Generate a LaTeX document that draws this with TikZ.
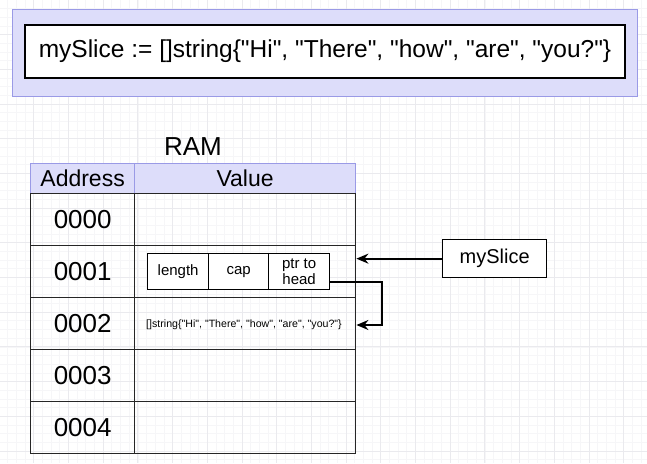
\documentclass[tikz,border=0pt]{standalone}
\usepackage{fontspec}
\setmainfont{Liberation Sans}[Ligatures=TeXOff]
\usetikzlibrary{arrows.meta}
\definecolor{lav}{HTML}{DDDDFA}
\definecolor{lavborder}{HTML}{9A9AE6}
\definecolor{gridmaj}{HTML}{EAEAEE}
\definecolor{gridmin}{HTML}{F6F6F8}
\tikzset{
  cellline/.style={draw=black!85, line width=1.4pt},
  plainbox/.style={draw=black, line width=1.3pt, fill=white},
  conn/.style={draw=black, line width=1.8pt, -{Stealth[length=12pt,width=10pt]}},
  addr/.style={font=\fontsize{26}{27}\selectfont},
}
\begin{document}
\begin{tikzpicture}[x=1pt,y=-1pt]
\useasboundingbox (0,0) rectangle (647,463);
\fill[white] (0,0) rectangle (647,463);
% grid
\foreach \i in {0,...,75} {
  \draw[gridmin, line width=0.4pt] ({-1.1+\i*8.675},0) -- ({-1.1+\i*8.675},463);
}
\foreach \i in {0,...,54} {
  \draw[gridmin, line width=0.4pt] (0,{-0.3+\i*8.675}) -- (647,{-0.3+\i*8.675});
}
\foreach \i in {0,...,19} {
  \draw[gridmaj, line width=0.6pt] ({-1.1+\i*34.7},0) -- ({-1.1+\i*34.7},463);
}
\foreach \i in {0,...,14} {
  \draw[gridmaj, line width=0.6pt] (0,{-0.3+\i*34.7}) -- (647,{-0.3+\i*34.7});
}
% top banner
\node[draw=lavborder, fill=lav, line width=1.3pt, minimum width=625pt, minimum height=87pt, inner sep=0pt, anchor=north west] (banner) at (12,8.5) {};
\node[plainbox, minimum width=600pt, minimum height=53pt, inner sep=0pt] (code) at (325,51.5)
  {\fontsize{24.5}{26}\selectfont mySlice := []string\{"Hi", "There", "how", "are", "you?"\}};
% RAM title
\node[font=\fontsize{26}{28}\selectfont] (ram) at (193,147) {RAM};
% header row
\node[draw=lavborder, fill=lav, line width=1.2pt, minimum width=104pt, minimum height=30pt, inner sep=0pt, anchor=north west,
  font=\fontsize{23}{24}\selectfont] (haddr) at (30,163) {Address};
\node[draw=lavborder, fill=lav, line width=1.2pt, minimum width=221pt, minimum height=30pt, inner sep=0pt, anchor=north west,
  font=\fontsize{23}{24}\selectfont] (hval) at (134,163) {Value};
% rows
\foreach \k/\a in {0/0000,1/0001,2/0002,3/0003,4/0004} {
  \node[cellline, minimum width=104pt, minimum height=52pt, inner sep=0pt, anchor=north west, addr]
    (a\k) at (30,{193+\k*52}) {\a};
  \node[cellline, minimum width=221pt, minimum height=52pt, inner sep=0pt, anchor=north west]
    (v\k) at (134,{193+\k*52}) {};
}
% struct in row 1
\node[plainbox, minimum width=61pt, minimum height=36pt, inner sep=0pt, anchor=north west,
  font=\fontsize{15}{16}\selectfont] (len) at (147,253) {length};
\node[plainbox, minimum width=60pt, minimum height=36pt, inner sep=0pt, anchor=north west,
  font=\fontsize{15}{16}\selectfont] (cap) at (208,253) {cap};
\node[plainbox, minimum width=61pt, minimum height=36pt, inner sep=0pt, anchor=north west,
  font=\fontsize{15}{15.5}\selectfont, align=center] (ptr) at (268,253) {ptr to\\head};
% array text in row 2
\node[font=\fontsize{10.6}{12}\selectfont] (arr) at (244,325)
  {[]string\{"Hi", "There", "how", "are", "you?"\}};
% mySlice variable
\node[plainbox, minimum width=104pt, minimum height=38pt, inner sep=0pt, anchor=north west,
  font=\fontsize{20}{22}\selectfont] (ms) at (442,239) {mySlice};
% connectors
\coordinate (bend) at (382,0);
\draw[conn] (ms.west) -- (v1.east |- ms.west);
\draw[conn] (ptr.east |- 0,282) -- (bend |- 0,282) -- (bend |- arr) -- (v2.east |- arr);
\end{tikzpicture}
\end{document}
